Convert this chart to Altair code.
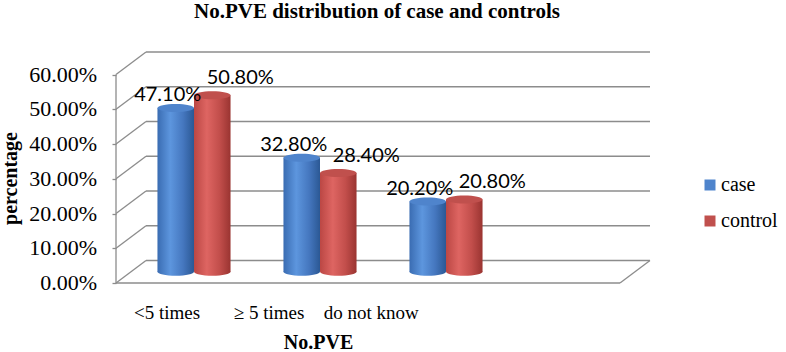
import altair as alt
import pandas as pd

# ---- chart values -------------------------------------------------------
categories = ["<5 times", "\u2265 5 times", "do not know"]
case_pct = [47.1, 32.8, 20.2]
control_pct = [50.8, 28.4, 20.8]
series_names = ["case", "control"]
y_ticks = [0, 10, 20, 30, 40, 50, 60]

# ---- 3-D box geometry (x in category slots, y in percent) ----------------
N_SLOTS = 4                 # floor holds four category slots
SLOT_PX = 126               # pixels per slot
DEPTH_X = 30 / SLOT_PX      # depth offset of the back wall, x units
DEPTH_Y = 6.48              # depth offset of the back wall, percent units
X_MAX = N_SLOTS + DEPTH_X
Y_MAX = max(y_ticks) + DEPTH_Y
PLOT_W = round(X_MAX * SLOT_PX)
PLOT_H = 231
BAR_W = 0.29                # cylinder diameter, x units
PAIR_OFFSET = 0.145         # half distance between case / control cylinders
LABEL_SPREAD = 0.81         # perspective squeeze of the category labels

GRID = "#8c8c8c"
SERIF = "Liberation Serif"

xs = alt.Scale(domain=[0, X_MAX], nice=False, zero=False)
ys = alt.Scale(domain=[0, Y_MAX], nice=False, zero=False)

# one axis definition shared by every layer so the layers merge cleanly;
# tick labels are drawn as text marks further down
X_AX = alt.Axis(
    labels=False, ticks=False, domain=False, grid=False,
    title="No.PVE", titleFont=SERIF, titleFontSize=20, titleFontWeight="bold",
    titleColor="black", titleX=202, titleY=59, titleAlign="center",
    titleBaseline="middle")
Y_AX = alt.Axis(
    values=y_ticks, labels=False,
    domain=False, grid=False, ticks=True, tickSize=4, tickColor=GRID,
    tickWidth=1.3,
    title="percentage", titleFont=SERIF, titleFontSize=20,
    titleFontWeight="bold", titleColor="black", titleAngle=-90,
    titleX=-106, titleY=126, titleAlign="center", titleBaseline="middle")


def X(field):
    return alt.X(field, type="quantitative", scale=xs, axis=X_AX)


def Y(field):
    return alt.Y(field, type="quantitative", scale=ys, axis=Y_AX)


# ---- frame: back wall, side wall, floor ---------------------------------
segs = []
for v in y_ticks:
    # back-wall gridline
    segs.append(dict(x=DEPTH_X, x2=X_MAX, y=v + DEPTH_Y, y2=v + DEPTH_Y))
    # side-wall diagonal
    segs.append(dict(x=0, x2=DEPTH_X, y=v, y2=v + DEPTH_Y))
segs.append(dict(x=0, x2=0, y=0, y2=max(y_ticks)))                  # front axis
segs.append(dict(x=0, x2=N_SLOTS, y=0, y2=0))                       # floor front edge
segs.append(dict(x=N_SLOTS, x2=X_MAX, y=0, y2=DEPTH_Y))             # floor right edge
frame_df = pd.DataFrame(segs)

frame = alt.Chart(frame_df).mark_rule(color=GRID, strokeWidth=1.3).encode(
    x=X("x"), x2="x2:Q", y=Y("y"), y2="y2:Q",
)

# percent labels along the front axis
tick_df = pd.DataFrame({"tick": y_ticks,
                        "text": [f"{t:.2f}%" for t in y_ticks]})
tick_labels = alt.Chart(tick_df).mark_text(
    font=SERIF, fontSize=22, color="black", align="right", baseline="middle"
).encode(x=alt.value(-19), y=Y("tick"), text="text:N")

# ---- cylinders -------------------------------------------------------------
rows = []
for s_i, (name, vals) in enumerate(zip(series_names, [case_pct, control_pct])):
    side = -1 if s_i == 0 else 1
    for k, (cat, v) in enumerate(zip(categories, vals)):
        cx = k + 0.5 + DEPTH_X / 2 + side * PAIR_OFFSET
        rows.append(dict(series=name, category=cat, value=v, cx=cx,
                         x0=cx - BAR_W / 2, x1=cx + BAR_W / 2,
                         base=DEPTH_Y / 2, top=v + DEPTH_Y / 2,
                         label=f"{v:.2f}%"))
bars_df = pd.DataFrame(rows)

ELLIPSE = "M -1 0 A 1 0.22 0 1 1 1 0 A 1 0.22 0 1 1 -1 0 Z"
ELLIPSE_SIZE = (BAR_W * SLOT_PX) ** 2


def shade(stops):
    return {"gradient": "linear", "x1": 0, "x2": 1, "y1": 0, "y2": 0,
            "stops": [{"offset": o, "color": c} for o, c in stops]}


body_fill = {
    "case": shade([(0, "#3a6cb2"), (0.35, "#5d96de"), (0.7, "#4577bf"), (1, "#2b5894")]),
    "control": shade([(0, "#bb4744"), (0.35, "#de6562"), (0.7, "#c24e4b"), (1, "#9a3431")]),
}
series_colors = ["#4f84cc", "#c0504d"]

layers = [frame, tick_labels]
for name in series_names:
    sub = bars_df[bars_df.series == name]
    base = alt.Chart(sub)
    body = base.mark_rect(fill=body_fill[name], strokeWidth=0).encode(
        x=X("x0"), x2="x1:Q", y=Y("base"), y2="top:Q",
    )
    bottom = base.mark_point(shape=ELLIPSE, size=ELLIPSE_SIZE, filled=True,
                             fill=body_fill[name], opacity=1, strokeWidth=0).encode(
        x=X("cx"), y=Y("base"),
    )
    layers += [body, bottom]

tops = alt.Chart(bars_df).mark_point(shape=ELLIPSE, size=ELLIPSE_SIZE, filled=True,
                                     opacity=1, strokeWidth=0).encode(
    x=X("cx"), y=Y("top"),
    color=alt.Color("series:N", scale=alt.Scale(domain=series_names, range=series_colors),
                    legend=None),
)
layers.append(tops)

# ---- value labels ------------------------------------------------------------
label_shift = {"case": (-8, -13), "control": (28, -17)}
for name in series_names:
    dx, dy = label_shift[name]
    layers.append(
        alt.Chart(bars_df[bars_df.series == name]).mark_text(
            font="Lato", fontSize=20, color="black", dx=dx, dy=dy,
            align="center", baseline="middle").encode(
            x=X("cx"), y=Y("top"), text="label:N",
        )
    )

# ---- category labels under the floor -------------------------------------------
cat_df = pd.DataFrame({"category": categories,
                       "pos": [LABEL_SPREAD * (k + 0.5) for k in range(len(categories))]})
layers.append(
    alt.Chart(cat_df).mark_text(font=SERIF, fontSize=19, color="black",
                                align="center", baseline="middle").encode(
        x=X("pos"), y=alt.value(261), text="category:N",
    )
)

# ---- legend: colour key to the right of the box ----------------------------------
LEGEND_X = 594          # key square centre, px from the plot's left edge
LEGEND_Y = 133          # first entry centre, px from the plot's top edge
LEGEND_STEP = 36
for i, (name, col) in enumerate(zip(series_names, series_colors)):
    key_df = pd.DataFrame({"series": [name]})
    ky = LEGEND_Y + i * LEGEND_STEP
    layers.append(
        alt.Chart(key_df).mark_point(shape="square", size=121, filled=True,
                                     opacity=1, strokeWidth=0, color=col).encode(
            x=alt.value(LEGEND_X), y=alt.value(ky))
    )
    layers.append(
        alt.Chart(key_df).mark_text(font=SERIF, fontSize=20, color="black",
                                    align="left", baseline="middle").encode(
            x=alt.value(LEGEND_X + 11), y=alt.value(ky), text="series:N")
    )

# ---- chart heading -------------------------------------------------------------
title_df = pd.DataFrame({"title": ["No.PVE distribution of case and controls"]})
layers.append(
    alt.Chart(title_df).mark_text(font=SERIF, fontSize=21, fontWeight="bold",
                                  color="black", align="center",
                                  baseline="alphabetic").encode(
        x=alt.value(PLOT_W / 2 - 6), y=alt.value(-34), text="title:N",
    )
)

chart = alt.layer(*layers).properties(
    width=PLOT_W, height=PLOT_H,
    padding={"left": 116, "top": 52, "right": 786 - 116 - PLOT_W, "bottom": 352 - 52 - PLOT_H},
    autosize=alt.AutoSizeParams(type="none"),
    background="white",
).configure_view(stroke=None)

chart.save("out.html", embed_options={"renderer": "svg", "actions": False})
